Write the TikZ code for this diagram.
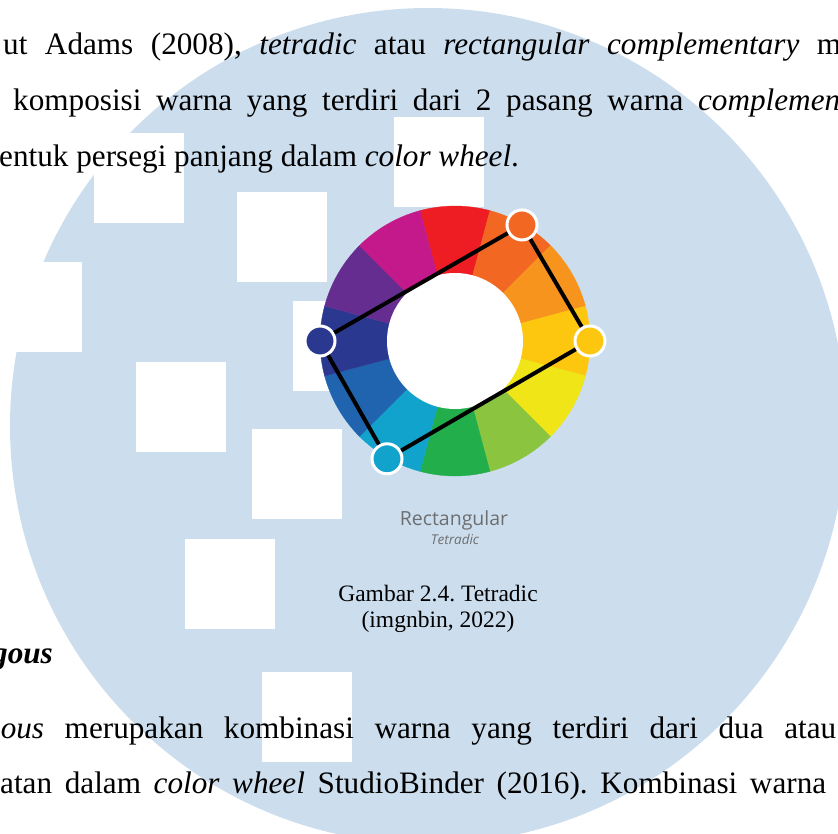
\documentclass[tikz,border=0pt]{standalone}
\usepackage{fontspec}
\setmainfont{Liberation Serif}
\newfontfamily\labelfont{Open Sans}
\frenchspacing
\definecolor{wmblue}{HTML}{CCDEEE}
\definecolor{wred}{HTML}{EE1D24}
\definecolor{wredorange}{HTML}{F26722}
\definecolor{worange}{HTML}{F7941E}
\definecolor{wamber}{HTML}{FDC60F}
\definecolor{wyellow}{HTML}{F0E516}
\definecolor{wlime}{HTML}{8BC43F}
\definecolor{wgreen}{HTML}{22AE4B}
\definecolor{wcyan}{HTML}{12A3CC}
\definecolor{wblue}{HTML}{2063AE}
\definecolor{wnavy}{HTML}{2A3890}
\definecolor{wpurple}{HTML}{652D90}
\definecolor{wmagenta}{HTML}{C4198A}
\definecolor{wgray}{HTML}{6D6E70}

\begin{document}
\begin{tikzpicture}[x=1pt, y=-1pt,
	body/.style = {anchor=base west, inner sep=0pt, font=\fontsize{31.2}{36}\selectfont},
	capt/.style = {anchor=base, inner sep=0pt, font=\fontsize{23.5}{28}\selectfont},
	tag/.style = {anchor=base, inner sep=0pt, text=wgray},
	dot/.style = {circle, draw=white, line width=3pt, minimum size=30pt, inner sep=0pt},
	link/.style = {black, line width=4pt}]
\useasboundingbox (0,0) rectangle (838,833);
\clip (0,0) rectangle (838,833);
\fill[wmblue] (428,426) circle [radius=418];
\foreach \x/\y in {94/133, 237/192, 394/117, -8/262, 293/301, 136/362, 252/429, 185/539, 262/672}
	\fill[white] (\x,\y) rectangle ++(90,90);
\begin{scope}[shift={(455,341)}, yscale=-1]
	\foreach \c [count=\i from 0] in {wred, wredorange, worange, wamber, wyellow, wlime, wgreen, wcyan, wblue, wnavy, wpurple, wmagenta}
		\filldraw[fill=\c, draw=\c, line width=0.3pt] (0,0) -- ({105-30*\i}:135) arc[start angle={105-30*\i}, end angle={75-30*\i}, radius=135] -- cycle;
	\fill[white] (0,0) circle [radius=68];
	\node[dot, fill=wredorange] (tr) at (60:134) {};
	\node[dot, fill=wamber] (rt) at (0:135) {};
	\node[dot, fill=wcyan] (bl) at (-120:136) {};
	\node[dot, fill=wnavy] (lf) at (180:135) {};
	\draw[link] (lf) -- (tr);
	\draw[link] (tr) -- (rt);
	\draw[link] (rt) -- (bl);
	\draw[link] (bl) -- (lf);
\end{scope}
\node[tag, font=\labelfont\fontsize{19.5}{22}\selectfont] (rect) at (454,525) {Rectangular};
\node[tag, font=\labelfont\itshape\fontsize{13.5}{15}\selectfont] (tetr) at (455,544) {Tetradic};
\node[body] (l1) at (3,54) {\makebox[838pt][s]{ut Adams (2008), \textit{tetradic} atau \textit{rectangular complementary} m}};
\node[body] (l2) at (13,110) {\makebox[827pt][s]{komposisi warna yang terdiri dari 2 pasang warna \textit{complemen}}};
\node[body] (l3) at (-1,166) {entuk persegi panjang dalam \textit{color wheel}.};
\node[capt] (cap1) at (438,601) {Gambar 2.4. Tetradic};
\node[capt] (cap2) at (438,627) {(imgnbin, 2022)};
\node[body, font=\fontsize{31.2}{36}\selectfont\bfseries\itshape] (head) at (-8,663) {gous};
\node[body] (l5) at (-15,738) {\makebox[851pt][s]{\textit{gous} merupakan kombinasi warna yang terdiri dari dua atau}};
\node[body] (l6) at (0,793) {\makebox[826pt][s]{atan dalam \textit{color wheel} StudioBinder (2016). Kombinasi warna}};
\end{tikzpicture}
\end{document}
